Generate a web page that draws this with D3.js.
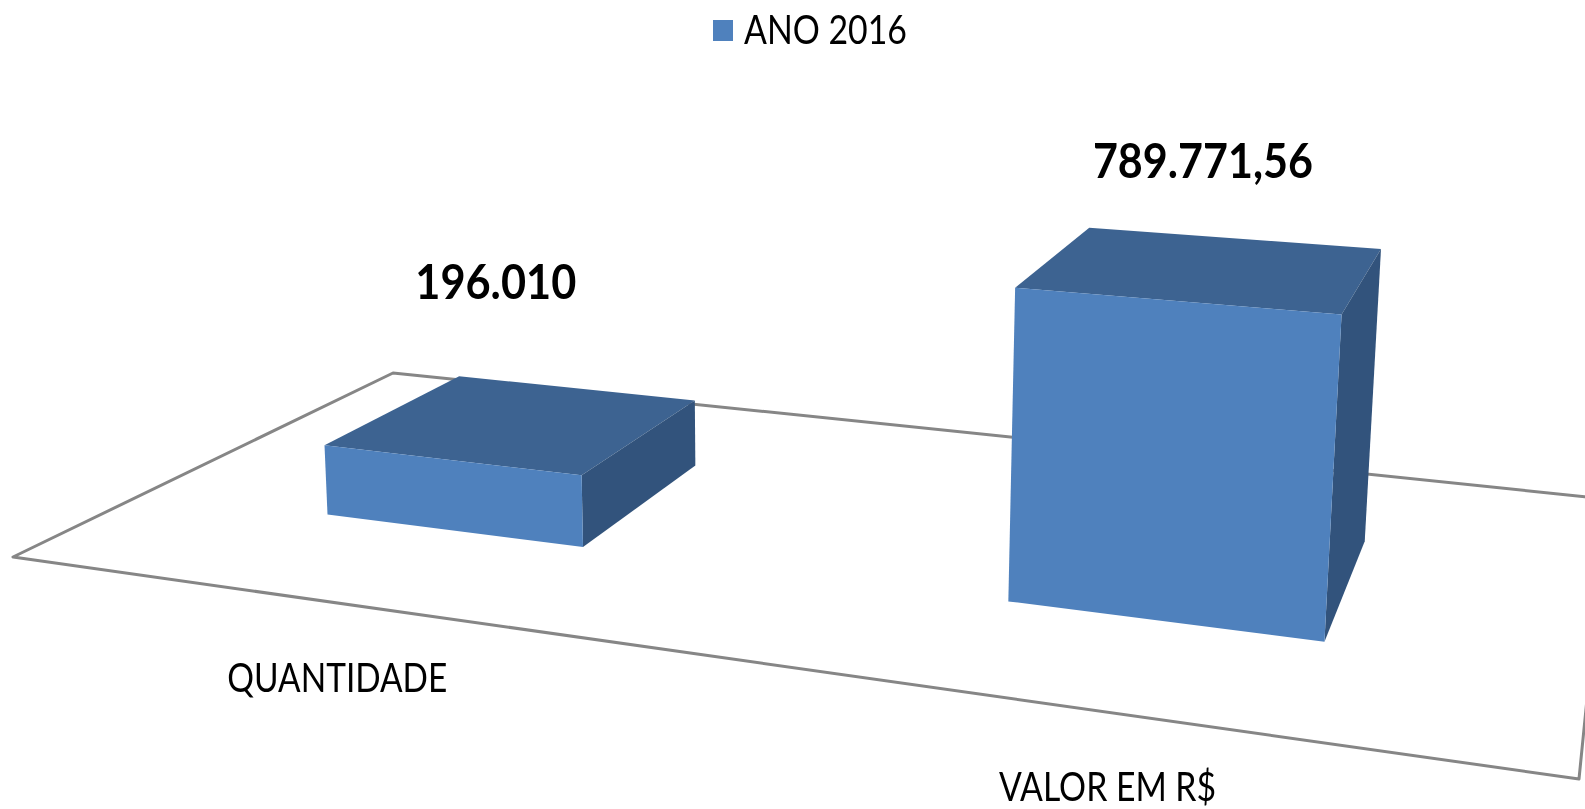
<!DOCTYPE html>
<html>
<head>
<meta charset="utf-8">
<style>
    body { margin: 0; background: #fff; overflow: hidden; }
    svg { display: block; }
    text { font-family: Lato, "Open Sans", sans-serif; fill: #000; }
</style>
<script src="https://cdn.jsdelivr.net/npm/d3@7"></script>
</head>
<body>
<script>
// chart data
const categories = ['QUANTIDADE', 'VALOR EM R$']
const values = [196010, 789771.56]
const valueLabels = ['196.010', '789.771,56']
const seriesNames = ['ANO 2016']

const width = 1585, height = 809

// where the corners of the chart floor land on the page (front-left, front-right, back-right, back-left)
const floorCorners = [[13, 557], [1579, 779], [1607, 499], [393, 373]]
// point where the vertical edges of the bars meet, far below the page
const verticalVanish = [783, 11000]

// the "3d" look is a plain perspective: floor is mapped with a square to quad homography
function squareToQuad(q) {
    const [[x0, y0], [x1, y1], [x2, y2], [x3, y3]] = q
    const dx1 = x1 - x2, dx2 = x3 - x2, sx = x0 - x1 + x2 - x3
    const dy1 = y1 - y2, dy2 = y3 - y2, sy = y0 - y1 + y2 - y3
    const det = dx1 * dy2 - dx2 * dy1
    const g = (sx * dy2 - dx2 * sy) / det
    const h = (dx1 * sy - sx * dy1) / det
    return {
        a: x1 - x0 + g * x1, b: x3 - x0 + h * x3, c: x0,
        d: y1 - y0 + g * y1, e: y3 - y0 + h * y3, f: y0,
        g: g, h: h
    }
}
const m = squareToQuad(floorCorners)

// u runs along the categories, v goes from front to back, k is the height
function project(u, v, k) {
    const w = m.g * u + m.h * v + 1 - k
    return [
        (m.a * u + m.b * v + m.c - k * verticalVanish[0]) / w,
        (m.d * u + m.e * v + m.f - k * verticalVanish[1]) / w
    ]
}

// scales
const xScale = d3.scaleBand()
    .domain(categories)
    .range([0.0005, 0.9955])
    .paddingInner(0.6)
    .paddingOuter(0.3)

const zScale = d3.scaleBand()
    .domain(seriesNames)
    .range([0.005, 0.985])
    .paddingInner(0.6)
    .paddingOuter(0.3)

const yScale = d3.scaleLinear()
    .domain([0, 800000])
    .range([0, 0.02824])

// value labels do not sit at a fixed spot over the bars in the original
const liftScale = d3.scaleLinear()
    .domain(d3.extent(values))
    .range([133, 99])
const nudgeScale = d3.scaleLinear()
    .domain(d3.extent(values))
    .range([-2.5, 6])

const svg = d3.select('body').append('svg')
    .attr('width', width)
    .attr('height', height)

const soft = svg.append('defs').append('filter')
    .attr('id', 'soft')
soft.append('feGaussianBlur')
    .attr('stdDeviation', 0.6)

const chart = svg.append('g')
    .attr('filter', 'url(#soft)')

const line = d3.line()

// floor
chart.append('path')
    .attr('d', line([[0, 0], [1, 0], [1, 1], [0, 1]].map(c => project(c[0], c[1], 0))) + 'Z')
    .attr('fill', '#fff')
    .attr('stroke', '#868686')
    .attr('stroke-width', 3)
    .attr('stroke-linejoin', 'round')

// bars, each one is three faces
const faces = [
    {name: 'top', fill: '#3d6391', pts: (x0, x1, z0, z1, k) => [[x0, z0, k], [x1, z0, k], [x1, z1, k], [x0, z1, k]]},
    {name: 'side', fill: '#32537b', pts: (x0, x1, z0, z1, k) => [[x1, z0, 0], [x1, z1, 0], [x1, z1, k], [x1, z0, k]]},
    {name: 'front', fill: '#4f81bd', pts: (x0, x1, z0, z1, k) => [[x0, z0, 0], [x1, z0, 0], [x1, z0, k], [x0, z0, k]]}
]

const z0 = zScale(seriesNames[0])
const z1 = z0 + zScale.bandwidth()

const bars = chart.selectAll('.bar')
    .data(categories)
    .enter()
    .append('g')
        .attr('class', 'bar')

bars.selectAll('path')
    .data((d, i) => faces.map(f => ({
        fill: f.fill,
        corners: f.pts(xScale(d), xScale(d) + xScale.bandwidth(), z0, z1, yScale(values[i]))
    })))
    .enter()
    .append('path')
        .attr('d', d => line(d.corners.map(c => project(c[0], c[1], c[2]))) + 'Z')
        .attr('fill', d => d.fill)

// value labels
chart.selectAll('.value')
    .data(categories)
    .enter()
    .append('text')
        .attr('class', 'value')
        .attr('x', (d, i) => project(xScale(d) + xScale.bandwidth() / 2, 0.44, yScale(values[i]))[0] + nudgeScale(values[i]))
        .attr('y', (d, i) => project(xScale(d) + xScale.bandwidth() / 2, 0.44, yScale(values[i]))[1] - liftScale(values[i]))
        .attr('text-anchor', 'middle')
        .attr('font-size', 47)
        .attr('font-weight', 700)
        .attr('textLength', (d, i) => [161, 220][i])
        .attr('lengthAdjust', 'spacingAndGlyphs')
        .text((d, i) => valueLabels[i])

// category labels, under the front edge of the floor
chart.selectAll('.category')
    .data(categories)
    .enter()
    .append('text')
        .attr('class', 'category')
        .attr('x', d => project(xScale(d) + xScale.bandwidth() / 2, 0, 0)[0] - 1)
        .attr('y', d => project(xScale(d) + xScale.bandwidth() / 2, 0, 0)[1] + 88.8)
        .attr('text-anchor', 'middle')
        .attr('font-size', 40)
        .attr('textLength', (d, i) => [220, 217][i])
        .attr('lengthAdjust', 'spacingAndGlyphs')
        .text(d => d)

// legend
chart.append('rect')
    .attr('x', 713)
    .attr('y', 20)
    .attr('width', 20)
    .attr('height', 21)
    .attr('fill', '#4f81bd')

chart.append('text')
    .attr('x', 744)
    .attr('y', 44)
    .attr('font-size', 41)
    .attr('textLength', 163)
    .attr('lengthAdjust', 'spacingAndGlyphs')
    .text(seriesNames[0])
</script>
</body>
</html>
